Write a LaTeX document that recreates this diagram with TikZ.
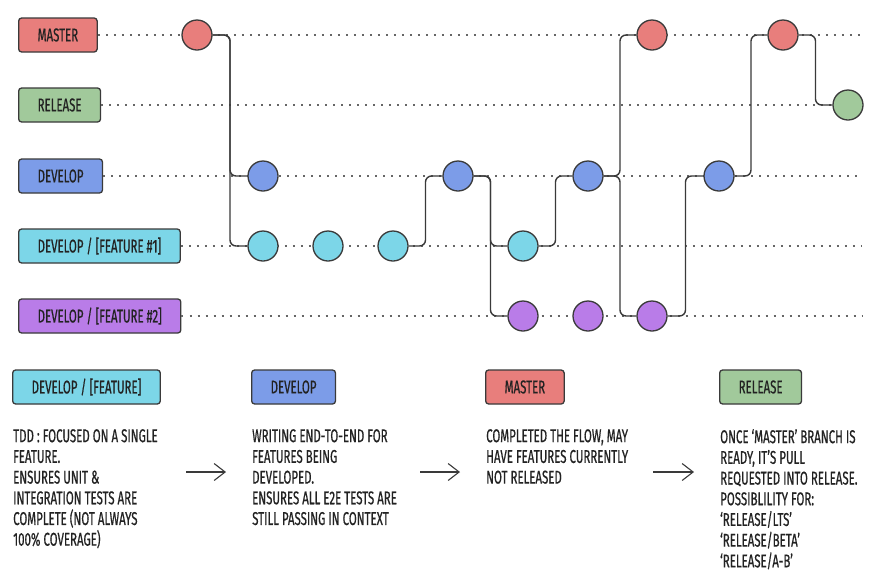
\documentclass[tikz,border=0pt]{standalone}
\usepackage{fontspec}
\setmainfont[FakeStretch=0.62,FakeBold=0.6]{Fira Sans}
\usetikzlibrary{arrows.meta,calc}
\definecolor{mastercol}{HTML}{E87E7C}
\definecolor{releasecol}{HTML}{A1C99B}
\definecolor{developcol}{HTML}{7C9CE8}
\definecolor{featonecol}{HTML}{7CD6E8}
\definecolor{feattwocol}{HTML}{B97CE8}
\definecolor{edge}{HTML}{3A3A3A}
\definecolor{ink}{HTML}{222222}
\definecolor{dots}{HTML}{666666}

\begin{document}
\begin{tikzpicture}[x=1pt,y=-1pt,
    branch/.style={draw=edge,line width=1.3pt,rounded corners=3pt,minimum height=34pt,inner xsep=19pt,anchor=west,text=ink,font=\fontsize{18.5}{20}\selectfont},
    commit/.style={circle,draw=edge,line width=1.3pt,minimum size=30pt,inner sep=0pt},
    track/.style={dots,line width=1.2pt,dash pattern=on 2pt off 6pt},
    link/.style={edge,line width=1.4pt,rounded corners=6pt},
    note/.style={align=left,anchor=north west,inner sep=0pt,text=ink,font=\fontsize{18.5}{20.7}\selectfont},
    flowarrow/.style={-{Straight Barb[length=11pt,width=17pt]},line width=1.1pt,edge}]
    \useasboundingbox[fill=white] (0,0) rectangle (880,582);
    % branches ==============================================
    \node[branch,fill=mastercol]  (lmaster)  at (18,35)  {MASTER};
    \node[branch,fill=releasecol] (lrelease) at (18,105) {RELEASE};
    \node[branch,fill=developcol] (ldevelop) at (18,176) {DEVELOP};
    \node[branch,fill=featonecol] (lfeatone) at (18,246) {DEVELOP / [FEATURE \#1]};
    \node[branch,fill=feattwocol] (lfeattwo) at (18,316) {DEVELOP / [FEATURE \#2]};
    \coordinate (emaster)  at (862,35);
    \coordinate (erelease) at (862,105);
    \coordinate (edevelop) at (862,176);
    \coordinate (efeatone) at (862,246);
    \coordinate (efeattwo) at (862,316);
    \draw[track] (lmaster)  -- (emaster);
    \draw[track] (lrelease) -- (erelease);
    \draw[track] (ldevelop) -- (edevelop);
    \draw[track] (lfeatone) -- (efeatone);
    \draw[track] (lfeattwo) -- (efeattwo);
    % commits ===============================================
    \node[commit,fill=mastercol]  (m1) at (197,35)  {};
    \node[commit,fill=mastercol]  (m2) at (652,35)  {};
    \node[commit,fill=mastercol]  (m3) at (783,35)  {};
    \node[commit,fill=releasecol] (r1) at (848,105) {};
    \node[commit,fill=developcol] (d1) at (263,176) {};
    \node[commit,fill=developcol] (d2) at (458,176) {};
    \node[commit,fill=developcol] (d3) at (588,176) {};
    \node[commit,fill=developcol] (d4) at (719,176) {};
    \node[commit,fill=featonecol] (fa1) at (263,246) {};
    \node[commit,fill=featonecol] (fa2) at (328,246) {};
    \node[commit,fill=featonecol] (fa3) at (393,246) {};
    \node[commit,fill=featonecol] (fa4) at (523,246) {};
    \node[commit,fill=feattwocol] (fb1) at (523,316) {};
    \node[commit,fill=feattwocol] (fb2) at (588,316) {};
    \node[commit,fill=feattwocol] (fb3) at (652,316) {};
    % merges ================================================
    \draw[link] (m1)  -| ($(m1)!.5!(d1)$)  |- (d1);
    \draw[link] (m1)  -| ($(m1)!.5!(fa1)$) |- (fa1);
    \draw[link] (fa3) -| ($(fa3)!.5!(d2)$) |- (d2);
    \draw[link] (d2)  -| ($(d2)!.5!(fa4)$) |- (fa4);
    \draw[link] (d2)  -| ($(d2)!.5!(fb1)$) |- (fb1);
    \draw[link] (fa4) -| ($(fa4)!.5!(d3)$) |- (d3);
    \draw[link] (d3)  -| ($(d3)!.5!(m2)$)  |- (m2);
    \draw[link] (d3)  -| ($(d3)!.5!(fb3)$) |- (fb3);
    \draw[link] (fb3) -| ($(fb3)!.5!(d4)$) |- (d4);
    \draw[link] (d4)  -| ($(d4)!.5!(m3)$)  |- (m3);
    \draw[link] (m3)  -| ($(m3)!.5!(r1)$)  |- (r1);
    % legend ================================================
    \node[branch,fill=featonecol] (kfeature) at (12,387)  {DEVELOP / [FEATURE]};
    \node[branch,fill=developcol] (kdevelop) at (251,387) {DEVELOP};
    \node[branch,fill=mastercol]  (kmaster)  at (485,387) {MASTER};
    \node[branch,fill=releasecol] (krelease) at (719,387) {RELEASE};
    \node[note] (tfeature) at (13,429)  {TDD : FOCUSED ON A SINGLE\\FEATURE.\\ENSURES UNIT \&\\INTEGRATION TESTS ARE\\COMPLETE (NOT ALWAYS\\100\% COVERAGE)};
    \node[note] (tdevelop) at (252,429) {WRITING END-TO-END FOR\\FEATURES BEING\\DEVELOPED.\\ENSURES ALL E2E TESTS ARE\\STILL PASSING IN CONTEXT};
    \node[note] (tmaster)  at (486,429) {COMPLETED THE FLOW, MAY\\HAVE FEATURES CURRENTLY\\NOT RELEASED};
    \node[note] (trelease) at (720,429) {ONCE ‘MASTER’ BRANCH IS\\READY, IT’S PULL\\REQUESTED INTO RELEASE.\\POSSIBLILITY FOR:\\‘RELEASE/LTS’\\‘RELEASE/BETA’\\‘RELEASE/A-B’};
    \coordinate (sa1) at (186,472); \coordinate (ea1) at (226,472);
    \coordinate (sa2) at (420,472); \coordinate (ea2) at (460,472);
    \coordinate (sa3) at (653,472); \coordinate (ea3) at (694,472);
    \draw[flowarrow] (sa1) -- (ea1);
    \draw[flowarrow] (sa2) -- (ea2);
    \draw[flowarrow] (sa3) -- (ea3);
\end{tikzpicture}
\end{document}
